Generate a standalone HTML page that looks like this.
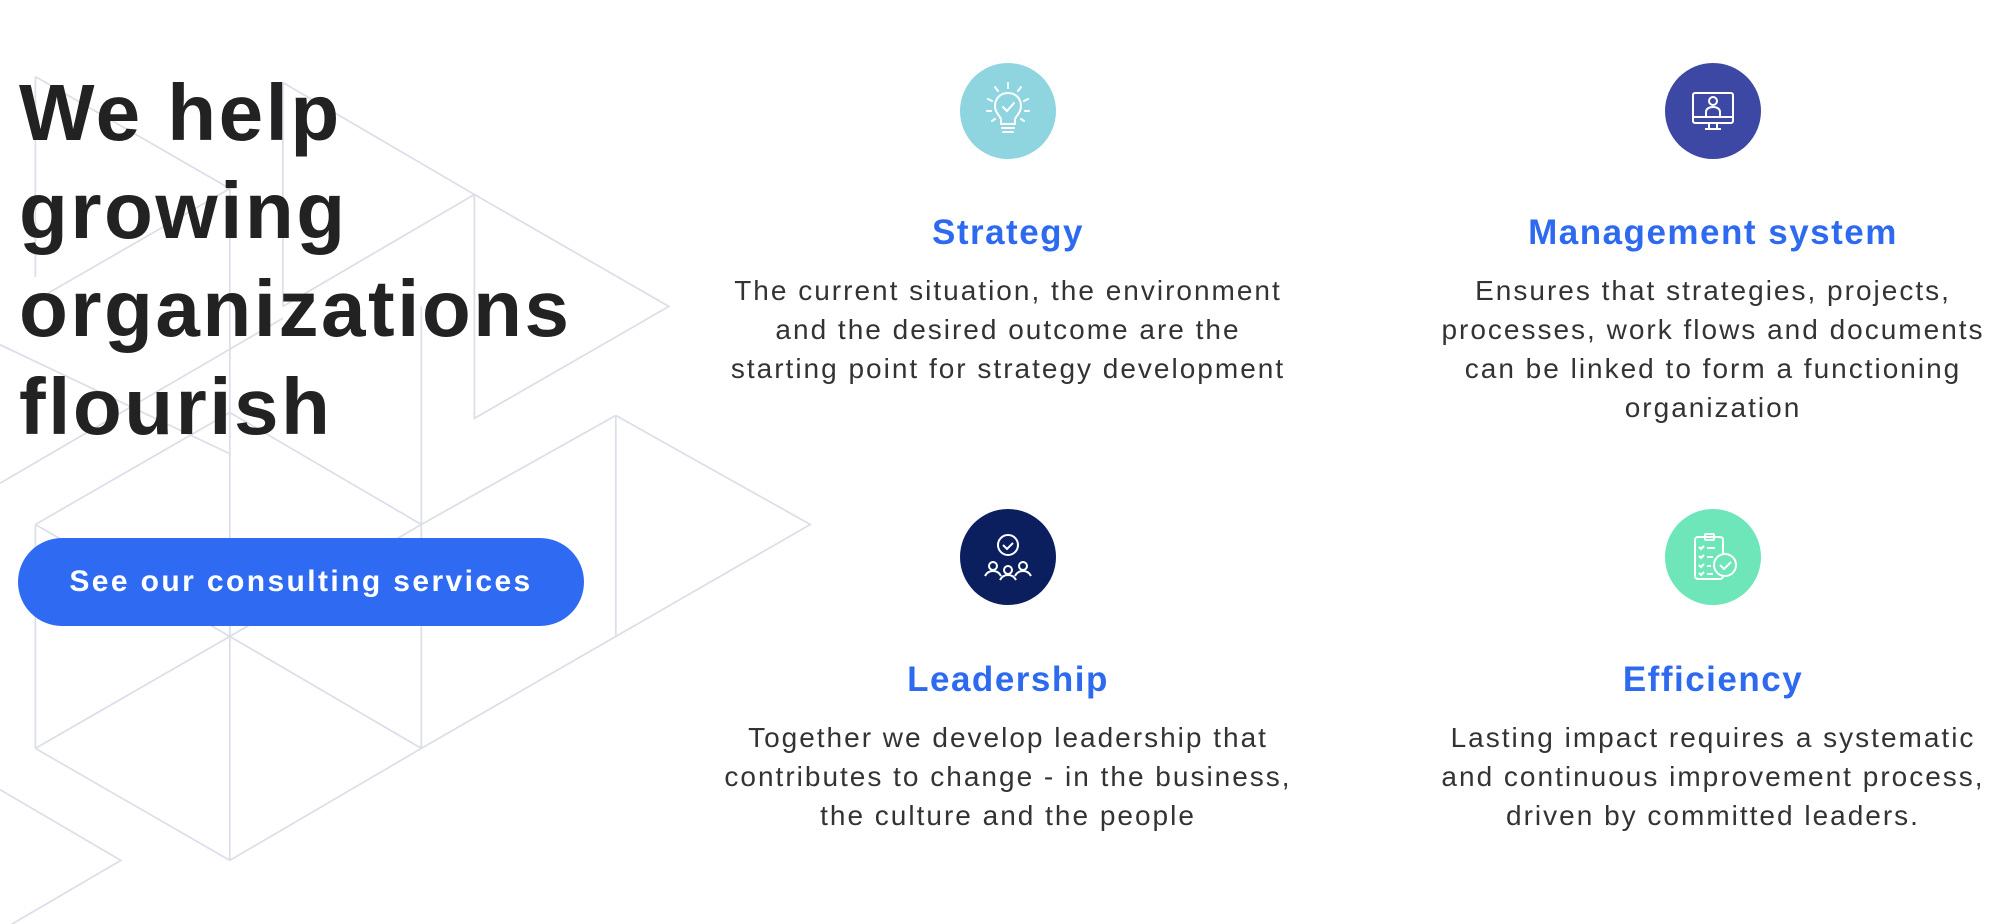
<!DOCTYPE html>
<html><head><meta charset="utf-8"><style>
*{margin:0;padding:0;box-sizing:border-box}
body{width:2000px;height:924px;background:#fff;position:relative;overflow:hidden;font-family:"Liberation Sans",sans-serif}
.bg{position:absolute;left:0;top:0}
h1{position:absolute;left:19px;top:64px;font-size:80px;line-height:98px;font-weight:bold;color:#222;letter-spacing:2.5px}
.btn{position:absolute;left:18px;top:538px;width:566px;height:88px;border-radius:44px;background:#2f6bf2;color:#fff;font-weight:bold;font-size:30px;letter-spacing:2.4px;text-align:center;line-height:88px}
.col{position:absolute;width:700px;text-align:center}
.col h2{font-size:35px;font-weight:bold;color:#2e6af0;letter-spacing:1.5px;height:44px;line-height:44px}
.col p{font-size:28px;color:#333;line-height:39px;letter-spacing:2px;margin-top:16px}
.ic{position:absolute;width:96px;height:96px;border-radius:50%}
</style></head><body>
<svg class="bg" width="924" height="924" viewBox="0 0 1568 1568" fill="none" stroke="#dcdfea" stroke-width="3">
<path d="M60 130V470M60 130L390 320M390 320V1460M480 140V520M480 140L805 330M805 330L1135 520L805 710V330M805 330L480 520M390 320L60 510M0 585L390 770M0 820L480 540M390 700L715 890M715 520V1270M60 890V1270M1045 705V1080M1045 705L1375 890L1045 1080M715 890L1045 705M60 890L390 700M390 1080L715 890M60 1270L390 1080M390 1080L715 1270M60 1270L390 1460L715 1270M715 1270L1045 1080M0 1340L205 1460L0 1580M60 890L390 1080"/>
</svg>
<h1>We help<br>growing<br>organizations<br>flourish</h1>
<div class="btn">See our consulting services</div>

<div class="ic" style="left:960px;top:63px;background:#8ed5e0"></div>
<svg style="position:absolute;left:960px;top:63px" width="96" height="96" viewBox="0 0 96 96" fill="none" stroke="#fff" stroke-width="2" stroke-linecap="round">
<path d="M48 30c-8 0-13 6-13 13 0 6 4 9 6 13v5h14v-5c2-4 6-7 6-13 0-7-5-13-13-13zM42 65h12M43 69h10M43 44l4 4 7-8M48 20v5M35 24l3 4M61 24l-3 4M28 36l4 2M68 36l-4 2M27 48h4M69 48h-4M32 58l3-2M64 58l-3-2"/></svg>

<div class="ic" style="left:1665px;top:63px;background:#3c48a3"></div>
<svg style="position:absolute;left:1665px;top:63px" width="96" height="96" viewBox="0 0 96 96" fill="none" stroke="#fff" stroke-width="2">
<rect x="28" y="30" width="40" height="30" rx="2"/><path d="M28 54h40M44 60v6h8v-6M40 66h16"/><circle cx="48" cy="38" r="4"/><path d="M41 54v-5c0-3 3-5 7-5s7 2 7 5v5"/></svg>

<div class="ic" style="left:960px;top:509px;background:#0b1f5f"></div>
<svg style="position:absolute;left:960px;top:509px" width="96" height="96" viewBox="0 0 96 96" fill="none" stroke="#fff" stroke-width="2">
<circle cx="48" cy="36" r="10"/><path d="M43 36l4 4 6-6"/><circle cx="33" cy="57" r="4"/><circle cx="48" cy="61" r="4"/><circle cx="63" cy="57" r="4"/><path d="M25 67c2-4 5-5 8-5s6 1 8 5M40 71c2-4 5-5 8-5s6 1 8 5M55 67c2-4 5-5 8-5s6 1 8 5"/></svg>

<div class="ic" style="left:1665px;top:509px;background:#6ee6b9"></div>
<svg style="position:absolute;left:1665px;top:509px" width="96" height="96" viewBox="0 0 96 96" fill="none" stroke="#fff" stroke-width="2">
<rect x="30" y="28" width="28" height="42" rx="3"/><rect x="40" y="25" width="9" height="6" rx="1"/><path d="M34 38l2 2 3-3M42 39h8M34 47l2 2 3-3M42 48h6M34 56l2 2 3-3M42 57h4M34 64l2 2 3-3M42 65h6"/><circle cx="60" cy="56" r="11" fill="#6ee6b9"/><path d="M55 56l4 4 7-7"/></svg>

<div class="col" style="left:658px;top:211px"><h2>Strategy</h2><p>The current situation, the environment<br>and the desired outcome are the<br>starting point for strategy development</p></div>
<div class="col" style="left:1363px;top:211px"><h2>Management system</h2><p>Ensures that strategies, projects,<br>processes, work flows and documents<br>can be linked to form a functioning<br>organization</p></div>
<div class="col" style="left:658px;top:658px"><h2>Leadership</h2><p>Together we develop leadership that<br>contributes to change - in the business,<br>the culture and the people</p></div>
<div class="col" style="left:1363px;top:658px"><h2>Efficiency</h2><p>Lasting impact requires a systematic<br>and continuous improvement process,<br>driven by committed leaders.</p></div>
</body></html>
